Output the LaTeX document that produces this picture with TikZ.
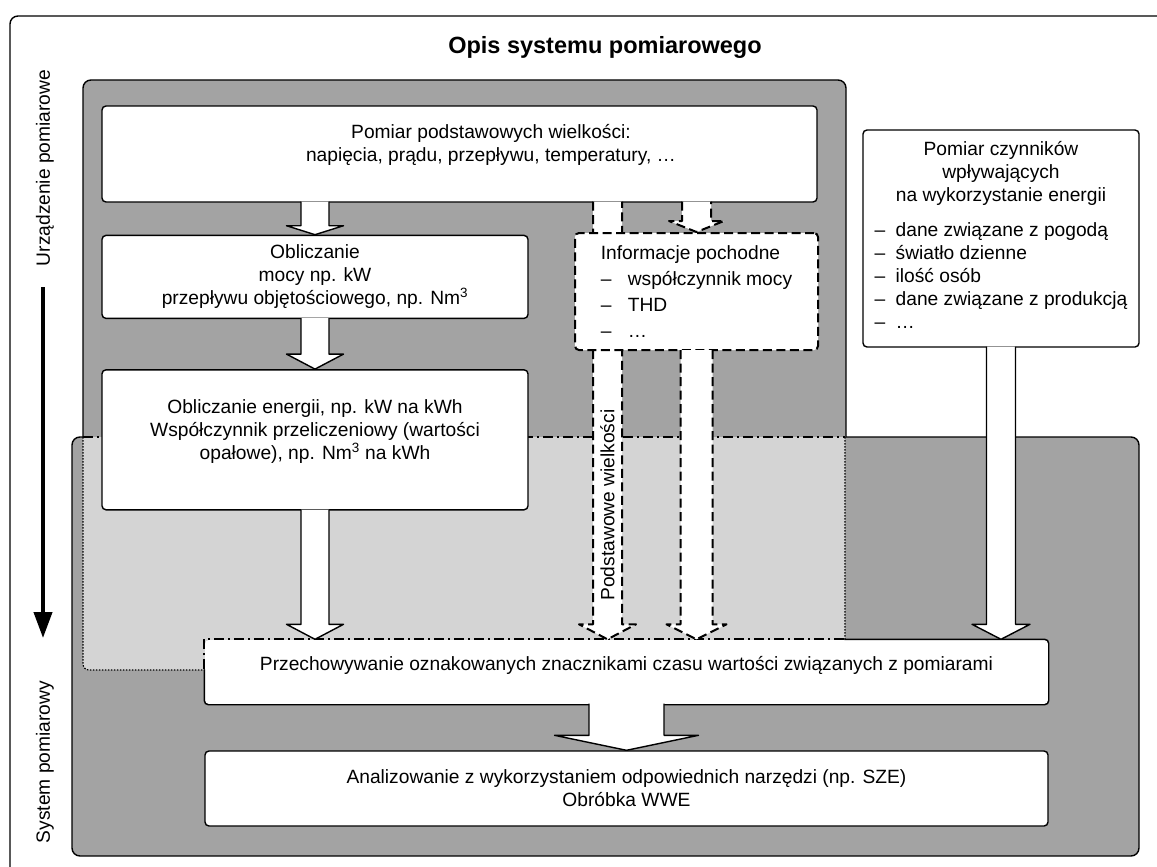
\documentclass[tikz,border=0pt]{standalone}
\usepackage{fontspec}
\setmainfont{Liberation Sans}
\usetikzlibrary{arrows.meta,positioning,calc}

\definecolor{darkfill}{gray}{0.64}
\definecolor{lightfill}{gray}{0.83}

\newcommand{\dsh}[1]{\makebox[#1][l]{–}}
% block arrow: [style]{from}{tip}{shaft half width}{head half width}{head length}
\newcommand{\blockarrow}[6][]{%
  \draw[blk,#1] ($(#2 -| #3)+(-#4,-1)$) -- ($(#3)+(-#4,-#6)$) -- ($(#3)+(-#5,-#6)$) -- (#3)
    -- ($(#3)+(#5,-#6)$) -- ($(#3)+(#4,-#6)$) -- ($(#2 -| #3)+(#4,-1)$);}

\begin{document}
\begin{tikzpicture}[
  x=1pt, y=-1pt,
  font=\fontsize{19.2}{23}\selectfont,
  box/.style={draw, fill=white, rounded corners=4pt, line width=1.4pt, inner sep=0pt, align=center},
  infobox/.style={box, line width=2pt, dash pattern=on 9pt off 4.5pt},
  blk/.style={draw, fill=white, line width=1.4pt, line join=round},
  dblk/.style={line width=2pt, dash pattern=on 9pt off 4.5pt},
  mixline/.style={line width=2pt, dash pattern=on 10pt off 4pt on 2pt off 4pt},
  region/.style={draw, fill=darkfill, line width=1.4pt, rounded corners=8pt},
  sidelbl/.style={rotate=90}
]
  \useasboundingbox (0,0) rectangle (1157,867);
  \clip (0,0) rectangle (1157,867);

  % frame and title
  \draw[line width=1.4pt, rounded corners=8pt] (10,16) rectangle (1180,890);
  \node[font=\fontsize{23.5}{27}\selectfont\bfseries] (title) at (605,47) {Opis systemu pomiarowego};

  % device / system areas
  \draw[region] (72,437) rectangle (1139,856);
  \draw[region] (83,437) -- (83,80) -- (846,80) -- (846,437);
  \draw[fill=lightfill, line width=1.2pt, dash pattern=on 1.5pt off 1.5pt, rounded corners=6pt]
    (845,437) -- (845,670) -- (83,670) -- (83,437);
  \draw[mixline] (83,437) -- (845,437);

  % side labels
  \node[sidelbl] (urz) at (45,168) {Urządzenie pomiarowe};
  \node[sidelbl] (sys) at (45,762) {System pomiarowy};
  \coordinate (ktop) at (43,287);
  \coordinate (kbot) at (43,638);
  \draw[line width=4pt, -{Triangle[length=26pt,width=18pt]}] (ktop) -- (kbot);

  % boxes
  \node[box, minimum width=715pt, minimum height=96pt] (pom) at (459.5,154) {};
  \node[align=center] (pomtxt) at (491,145) {Pomiar podstawowych wielkości:\\napięcia, prądu, przepływu, temperatury, …};
  \node[box, minimum width=426pt, minimum height=83pt, below=32pt of pom.south west, anchor=north west] (obl)
    {Obliczanie\\mocy np. kW\\przepływu objętościowego, np. Nm\textsuperscript{3}};
  \node[box, minimum width=426pt, minimum height=140pt, below=50pt of obl.south west, anchor=north west] (ener)
    {Obliczanie energii, np. kW na kWh\\Współczynnik przeliczeniowy (wartości\\opałowe), np. Nm\textsuperscript{3} na kWh\\[-3pt]~};
  \node[box, draw=none, minimum width=843pt, minimum height=64pt] (prz) at (626.5,672)
    {Przechowywanie oznakowanych znacznikami czasu wartości związanych z pomiarami\\[-5pt]~};
  \node[box, minimum width=843pt, minimum height=75pt] (ana) at (626.5,788.5)
    {Analizowanie z wykorzystaniem odpowiednich narzędzi (np. SZE)\\Obróbka WWE};
  \node[box, minimum width=276pt, minimum height=217pt] (czyn) at (1001,238.5)
    {Pomiar czynników\\wpływających\\na wykorzystanie energii\\[14pt]
     \begin{tabular}{@{}l@{}}
       \dsh{21pt}dane związane z pogodą\\
       \dsh{21pt}światło dzienne\\
       \dsh{21pt}ilość osób\\
       \dsh{21pt}dane związane z produkcją\\
       \dsh{21pt}…
     \end{tabular}};

  % storage box outline, overlap part dash-dotted
  \draw[line width=1.4pt, rounded corners=4pt] ($(prz.north west)+(640,0)$) -- (prz.north east)
    -- (prz.south east) -- (prz.south west) -- ($(prz.north west)+(0,30)$);
  \draw[mixline] ($(prz.north west)+(0,30)$) -- (prz.north west) -- ($(prz.north west)+(640,0)$);

  % basic quantities pass behind derived info
  \coordinate (t5) at ($(prz.north)+(-19,0)$);
  \blockarrow[dblk]{pom.south}{t5}{14.5}{28.5}{15}
  \node[sidelbl] (pwlbl) at (607.5,505) {Podstawowe wielkości};

  \node[infobox, minimum width=243pt, minimum height=117pt, align=left, font=\fontsize{19.2}{26}\selectfont] (info) at (696.5,291.5)
    {Informacje pochodne\\\dsh{27pt}współczynnik mocy\\\dsh{27pt}THD\\\dsh{27pt}…};

  % flows
  \coordinate (t3) at (prz.north -| ener.south);
  \coordinate (t6) at (prz.north -| info.south);
  \coordinate (t7) at (prz.north -| czyn.south);
  \blockarrow{pom.south}{obl.north}{14}{28.5}{9}
  \blockarrow{obl.south}{ener.north}{14}{28.5}{15}
  \blockarrow{ener.south}{t3}{14}{28.5}{15}
  \blockarrow[dblk]{pom.south}{info.north}{14.5}{27.5}{11}
  \blockarrow[dblk]{info.south}{t6}{16}{30}{15}
  \blockarrow{czyn.south}{t7}{14.5}{29}{15}
  \blockarrow{prz.south}{ana.north}{37.5}{72}{15}
\end{tikzpicture}
\end{document}
